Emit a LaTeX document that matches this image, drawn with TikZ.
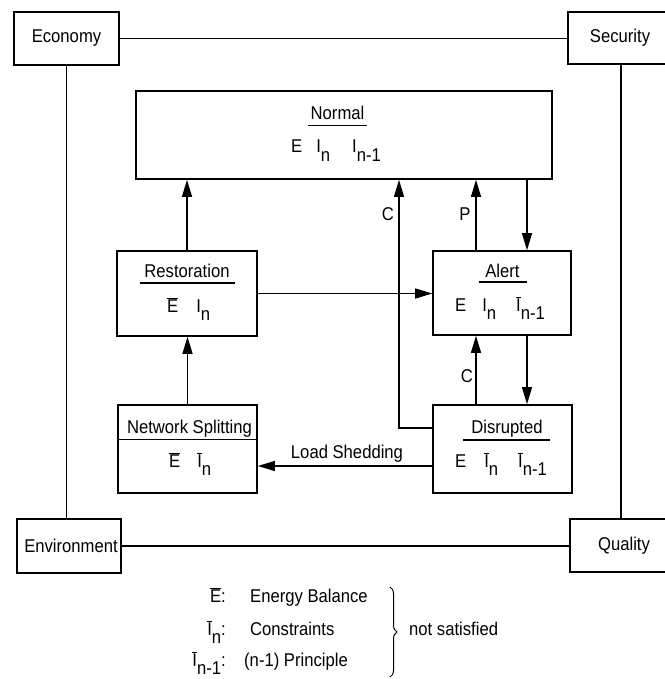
\documentclass[tikz,border=0pt]{standalone}
\usepackage{fontspec}
\setmainfont{Liberation Sans}[FakeStretch=0.9]
\usetikzlibrary{arrows.meta,decorations.pathreplacing,calc}
\newcommand{\ovl}[1]{$\overline{\mbox{#1}}$}
\newcommand{\subs}[1]{\raisebox{-0.48em}{#1}}
\begin{document}
\begin{tikzpicture}[x=1pt,y=-1pt,
  font=\fontsize{18.5}{21}\selectfont,
  box/.style={draw, line width=1.6pt, inner sep=0pt},
  conn/.style={line width=1.3pt},
  ul/.style={line width=1.4pt},
  arr/.style={line width=1.3pt, -{Triangle[length=17pt,width=10pt]}},
  lab/.style={inner sep=0pt}]
\useasboundingbox (0,0) rectangle (664,679);

% outer boxes
\node[box, minimum width=105pt, minimum height=53pt] (eco) at (66.5,38.5) {Economy};
\node[box, minimum width=106pt, minimum height=52pt] (sec) at (621,38) {};
\node[lab] (sect) at (620,38) {Security};
\node[box, minimum width=104pt, minimum height=54pt] (env) at (69,546) {};
\node[lab] (envt) at (71,546) {Environment};
\node[box, minimum width=108pt, minimum height=53pt] (qual) at (624,545.5) {};
\node[lab] (qualt) at (624,545.5) {Quality};

% inner boxes
\node[box, minimum width=416pt, minimum height=88pt] (normal) at (344,135) {};
\node[box, minimum width=140pt, minimum height=85pt] (rest) at (187,293.5) {};
\node[box, minimum width=138pt, minimum height=84pt] (alert) at (502,293) {};
\node[box, minimum width=139pt, minimum height=88pt] (net) at (187.5,449) {};
\node[box, minimum width=139pt, minimum height=88pt] (disr) at (502.5,449) {};

% titles
\node[lab, anchor=base] (nt) at (337.5,119.5) {Normal};
\draw[ul] ($(nt.base)+(-29.5,6)$) -- ($(nt.base)+(29.5,6)$);
\node[lab, anchor=base] (rt) at (187,277) {Restoration};
\draw[ul] ($(rt.base)+(-47.5,6)$) -- ($(rt.base)+(47.5,6)$);
\node[lab, anchor=base] (at) at (502.5,277) {Alert};
\draw[ul] ($(at.base)+(-24,5)$) -- ($(at.base)+(24,5)$);
\node[lab, anchor=base] (nst) at (189.5,433) {Network Splitting};
\draw[ul] ($(net.north west)+(0,35)$) -- ($(net.north east)+(0,35)$);
\node[lab, anchor=base] (dt) at (507,433) {Disrupted};
\draw[ul] ($(dt.base)+(-44,7)$) -- ($(dt.base)+(43,7)$);

% formulas
\node[lab, anchor=base west] (nf) at (291,153) {E\hspace{14pt}I\subs{n}\hspace{22pt}I\subs{n-1}};
\node[lab, anchor=base west] (rf) at (167,312) {\ovl{E}\hspace{18pt}I\subs{n}};
\node[lab, anchor=base west] (af) at (455,311) {E\hspace{16pt}I\subs{n}\hspace{20pt}\ovl{I}\subs{n-1}};
\node[lab, anchor=base west] (nsf) at (169,467) {\ovl{E}\hspace{17pt}\ovl{I}\subs{n}};
\node[lab, anchor=base west] (df) at (455,467) {E\hspace{18pt}\ovl{I}\subs{n}\hspace{20pt}\ovl{I}\subs{n-1}};

% outer connections
\draw[conn] (eco.east) -- (eco.east -| sec.west);
\draw[conn] (eco.south) -- (eco.south |- env.north);
\draw[conn] (sec.south) -- (sec.south |- qual.north);
\draw[conn] (env.east) -- (env.east -| qual.west);

% arrows
\draw[arr] (rest.north) -- (rest.north |- normal.south);
\draw[arr] (net.north) -- (net.north |- rest.south);
\draw[arr] (rest.east) -- (rest.east -| alert.west);
\coordinate (cturn) at (399,428);
\draw[arr] (disr.west |- cturn) -- (cturn) -- (cturn |- normal.south);
\draw[arr] ($(alert.north)+(-26,0)$) -- ($(alert.north |- normal.south)+(-26,0)$);
\draw[arr] ($(alert.north |- normal.south)+(25,0)$) -- ($(alert.north)+(25,0)$);
\draw[arr] ($(disr.north)+(-26.5,0)$) -- ($(disr.north |- alert.south)+(-26.5,0)$);
\draw[arr] ($(alert.south)+(25,0)$) -- ($(alert.south |- disr.north)+(25,0)$);
\draw[arr] ($(disr.west)+(0,17)$) -- ($(disr.west -| net.east)+(0,17)$);

% connector labels
\node[lab, anchor=base] (c1) at (388,220) {C};
\node[lab, anchor=base] (p1) at (465,220) {P};
\node[lab, anchor=base] (c2) at (467,382) {C};
\node[lab, anchor=base] (ls) at (347,458) {Load Shedding};

% legend
\node[lab, anchor=base east] (l1) at (226,602) {\ovl{E}:};
\node[lab, anchor=base west] (t1) at (250,602) {Energy Balance};
\node[lab, anchor=base east] (l2) at (226,635) {\ovl{I}\subs{n}:};
\node[lab, anchor=base west] (t2) at (250,635) {Constraints};
\node[lab, anchor=base east] (l3) at (226,666) {\ovl{I}\subs{n-1}:};
\node[lab, anchor=base west] (t3) at (244,666) {(n-1) Principle};
\draw[line width=1pt, decorate, decoration={brace, amplitude=7pt}] (390,587) -- (390,677);
\node[lab, anchor=base west] (ns) at (409,635) {not satisfied};
\end{tikzpicture}
\end{document}
